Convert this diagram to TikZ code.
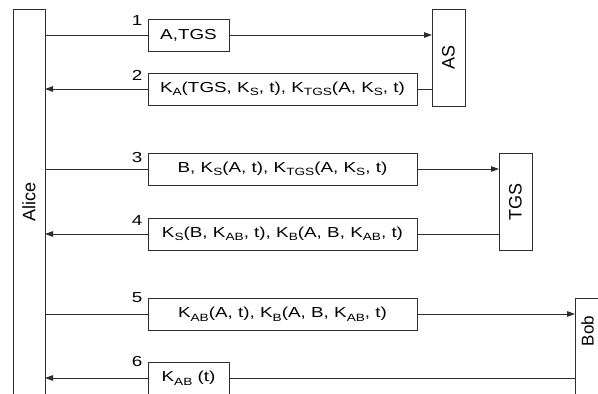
\documentclass[tikz,border=0pt]{standalone}
\usepackage{fontspec}
\usepackage{graphicx}
\setmainfont{Liberation Sans}
\newfontfamily\msgfont[FakeStretch=1.3]{Liberation Sans}
\usetikzlibrary{arrows.meta}
\definecolor{linec}{RGB}{45,45,45}
\newcommand\sbs[1]{\raisebox{-3.5pt}{\fontsize{10.5pt}{10.5pt}\selectfont #1}}
\begin{document}
\begin{tikzpicture}[x=1pt,y=-1pt,
  box/.style={draw=linec, line width=1pt, inner sep=0pt, outer sep=0pt, anchor=north west},
  msg/.style={box, font=\msgfont\fontsize{14.5pt}{16pt}\selectfont, minimum height=32pt},
  party/.style={font=\fontsize{18pt}{18pt}\selectfont, rotate=90, inner sep=0pt},
  num/.style={font=\msgfont\fontsize{14.5pt}{14.5pt}\selectfont, inner sep=0pt},
  conn/.style={draw=linec, line width=1pt},
  arr/.style={-{Triangle[length=8pt,width=5.5pt]}}]
\useasboundingbox (0,0) rectangle (598,394);
\clip (0,0) rectangle (598,394);
% parties
\node[box, minimum width=32pt, minimum height=420pt] (alice) at (13,9) {};
\node[party] (alicelbl) at (29,202) {Alice};
\node[box, minimum width=33pt, minimum height=97pt] (as) at (432,9) {};
\node[party] (aslbl) at (448.5,57) {AS};
\node[box, minimum width=33pt, minimum height=97pt] (tgs) at (499,153) {};
\node[party] (tgslbl) at (515.5,201.5) {TGS};
\node[box, minimum width=60pt, minimum height=130pt] (bob) at (575,298) {};
\node[party, font=\fontsize{17pt}{17pt}\selectfont] (boblbl) at (587.5,331) {Bob};
% messages
\node[msg, minimum width=81pt] (m1) at (148,19) {A,TGS};
\node[msg, minimum width=269pt] (m2) at (148,73) {K\sbs{A}(TGS, K\sbs{S}, t), K\sbs{TGS}(A, K\sbs{S}, t)};
\node[msg, minimum width=269pt] (m3) at (148,153) {B, K\sbs{S}(A, t), K\sbs{TGS}(A, K\sbs{S}, t)};
\node[msg, minimum width=269pt] (m4) at (148,218) {K\sbs{S}(B, K\sbs{AB}, t), K\sbs{B}(A, B, K\sbs{AB}, t)};
\node[msg, minimum width=269pt] (m5) at (148,298) {K\sbs{AB}(A, t), K\sbs{B}(A, B, K\sbs{AB}, t)};
\node[msg, minimum width=81pt] (m6) at (148,362) {K\sbs{AB} (t)};
% numbers
\node[num] (n1) at (137,20.5) {1};
\node[num] (n2) at (137,75) {2};
\node[num] (n3) at (137,157.5) {3};
\node[num] (n4) at (137,220.5) {4};
\node[num] (n5) at (137,297.5) {5};
\node[num] (n6) at (137,362) {6};
% connectors
\draw[conn] (alice.east |- m1.west) -- (m1.west);
\draw[conn,arr] (m1.east) -- (m1.east -| as.west);
\draw[conn] (as.west |- m2.east) -- (m2.east);
\draw[conn,arr] (m2.west) -- (m2.west -| alice.east);
\draw[conn] (alice.east |- m3.west) -- (m3.west);
\draw[conn,arr] (m3.east) -- (m3.east -| tgs.west);
\draw[conn] (tgs.west |- m4.east) -- (m4.east);
\draw[conn,arr] (m4.west) -- (m4.west -| alice.east);
\draw[conn] (alice.east |- m5.west) -- (m5.west);
\draw[conn,arr] (m5.east) -- (m5.east -| bob.west);
\draw[conn] (bob.west |- m6.east) -- (m6.east);
\draw[conn,arr] (m6.west) -- (m6.west -| alice.east);
\end{tikzpicture}
\end{document}
